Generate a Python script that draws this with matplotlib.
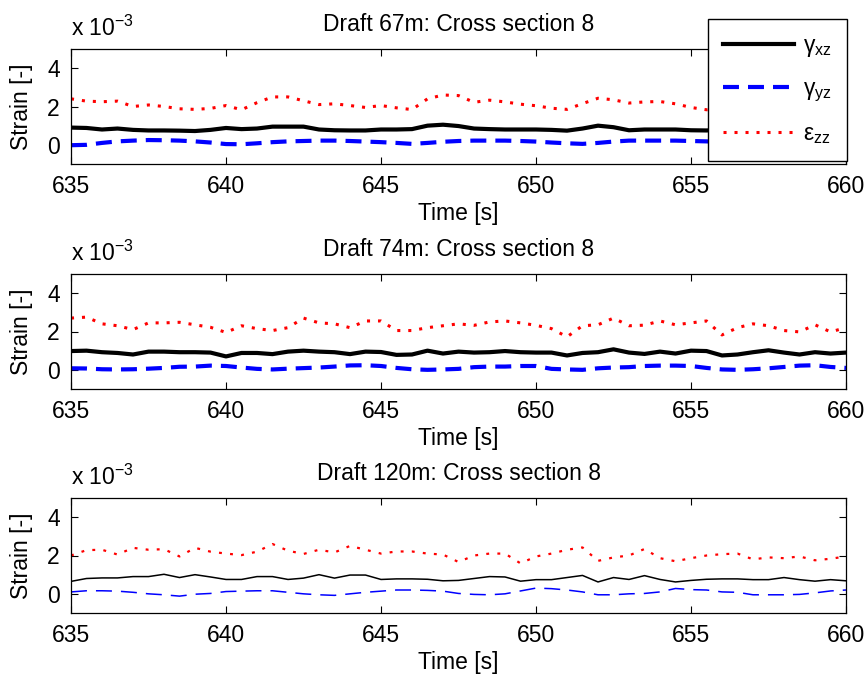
import numpy as np
import matplotlib
matplotlib.use("Agg")
import matplotlib.pyplot as plt

plt.rcParams["font.family"] = ["Liberation Sans", "DejaVu Sans"]
plt.rcParams["mathtext.fontset"] = "custom"
plt.rcParams["mathtext.rm"] = "Liberation Sans"
plt.rcParams["mathtext.it"] = "Liberation Sans"
plt.rcParams["mathtext.bf"] = "Liberation Sans:bold"

# Time samples [s]
time = np.arange(635.0, 660.01, 0.5)

# Strain values in units of 1e-3, one list per draft
gxz_67 = [0.90, 0.88, 0.80, 0.85, 0.78, 0.75, 0.75, 0.74, 0.72, 0.78,
          0.88, 0.82, 0.85, 0.95, 0.95, 0.95, 0.80, 0.76, 0.75, 0.75,
          0.80, 0.80, 0.82, 1.00, 1.05, 0.98, 0.85, 0.82, 0.80, 0.80,
          0.80, 0.78, 0.74, 0.85, 1.00, 0.92, 0.76, 0.80, 0.80, 0.80,
          0.76, 0.75, 0.78, 0.80, 0.85, 0.82, 0.80, 0.78, 0.80, 0.82,
          0.80]
gyz_67 = [-0.02, 0.00, 0.10, 0.18, 0.22, 0.25, 0.24, 0.22, 0.18, 0.12,
          0.04, 0.03, 0.08, 0.14, 0.18, 0.20, 0.22, 0.22, 0.20, 0.17,
          0.14, 0.10, 0.05, 0.10, 0.16, 0.20, 0.22, 0.22, 0.22, 0.20,
          0.17, 0.12, 0.08, 0.05, 0.10, 0.17, 0.22, 0.22, 0.22, 0.22,
          0.20, 0.18, 0.15, 0.10, 0.08, 0.10, 0.15, 0.20, 0.20, 0.18,
          0.15]
ezz_67 = [2.40, 2.28, 2.25, 2.28, 2.00, 2.08, 2.00, 1.88, 1.85, 1.90,
          2.05, 1.83, 2.20, 2.50, 2.50, 2.30, 2.10, 2.14, 2.05, 1.95,
          2.05, 1.93, 1.84, 2.40, 2.60, 2.57, 2.22, 2.33, 2.24, 2.12,
          2.04, 1.91, 1.85, 2.15, 2.43, 2.35, 2.18, 2.24, 2.26, 2.14,
          1.95, 1.83, 1.90, 2.05, 2.20, 2.30, 2.25, 2.10, 2.00, 2.10,
          2.20]

gxz_74 = [0.98, 1.00, 0.92, 0.88, 0.80, 0.95, 0.95, 0.92, 0.92, 0.90,
          0.70, 0.88, 0.88, 0.82, 0.95, 1.00, 0.95, 0.92, 0.82, 0.95,
          0.93, 0.78, 0.80, 1.00, 0.85, 0.95, 0.90, 0.92, 0.98, 0.92,
          0.90, 0.90, 0.75, 0.88, 0.92, 1.07, 0.90, 0.83, 0.95, 0.85,
          1.00, 0.98, 0.75, 0.80, 0.92, 1.02, 0.90, 0.80, 0.92, 0.85,
          0.90]
gyz_74 = [0.08, 0.07, 0.03, 0.02, 0.03, 0.06, 0.10, 0.16, 0.17, 0.22,
          0.20, 0.12, 0.05, 0.02, 0.06, 0.09, 0.12, 0.17, 0.23, 0.24,
          0.20, 0.10, 0.03, 0.00, 0.02, 0.05, 0.14, 0.17, 0.17, 0.20,
          0.20, 0.05, 0.02, 0.00, 0.08, 0.12, 0.14, 0.20, 0.22, 0.22,
          0.20, 0.10, 0.02, 0.00, 0.03, 0.08, 0.15, 0.22, 0.24, 0.15,
          0.10]
ezz_74 = [2.70, 2.75, 2.40, 2.30, 2.10, 2.45, 2.45, 2.48, 2.35, 2.22,
          1.95, 2.30, 2.15, 2.05, 2.20, 2.70, 2.45, 2.40, 2.20, 2.55,
          2.55, 2.05, 2.05, 2.20, 2.30, 2.40, 2.32, 2.50, 2.55, 2.45,
          2.32, 2.15, 1.72, 2.30, 2.35, 2.70, 2.30, 2.33, 2.55, 2.35,
          2.45, 2.55, 1.82, 2.20, 2.40, 2.30, 2.05, 1.98, 2.35, 1.98,
          2.20]

gxz_120 = [0.65, 0.80, 0.83, 0.83, 0.90, 0.90, 1.02, 0.85, 1.00, 0.88,
           0.75, 0.75, 0.90, 0.90, 0.75, 0.82, 1.00, 0.82, 0.98, 0.98,
           0.75, 0.78, 0.78, 0.76, 0.68, 0.70, 0.80, 0.90, 0.88, 0.66,
           0.74, 0.74, 0.85, 0.96, 0.62, 0.85, 0.75, 0.95, 0.75, 0.62,
           0.70, 0.76, 0.78, 0.78, 0.74, 0.74, 0.85, 0.74, 0.66, 0.74,
           0.68]
gyz_120 = [0.10, 0.16, 0.16, 0.14, 0.08, 0.00, -0.05, -0.12, -0.02, 0.02,
           0.12, 0.14, 0.16, 0.16, 0.08, 0.00, -0.05, -0.08, 0.00, 0.08,
           0.14, 0.20, 0.20, 0.18, 0.14, 0.02, -0.03, -0.05, 0.00, 0.15,
           0.30, 0.27, 0.20, 0.10, -0.05, -0.05, 0.00, 0.02, 0.10, 0.28,
           0.22, 0.20, 0.10, 0.08, -0.05, -0.05, -0.05, -0.03, 0.05, 0.15,
           0.20]
ezz_120 = [2.00, 2.28, 2.30, 2.05, 2.40, 2.30, 2.33, 1.95, 2.40, 2.20,
           2.10, 2.02, 2.20, 2.60, 2.25, 2.08, 2.30, 2.16, 2.50, 2.30,
           2.10, 2.21, 2.21, 2.10, 2.05, 1.66, 2.00, 2.10, 2.10, 1.59,
           1.95, 2.10, 2.30, 2.42, 1.72, 1.90, 2.00, 2.34, 1.86, 1.70,
           1.86, 2.00, 2.07, 2.10, 1.80, 1.90, 1.86, 1.95, 1.75, 1.83,
           1.95]

drafts = ["67m", "74m", "120m"]
series = [(gxz_67, gyz_67, ezz_67), (gxz_74, gyz_74, ezz_74),
          (gxz_120, gyz_120, ezz_120)]
line_widths = [3.0, 3.0, 1.1]

labels = ["\u03b3$_{\\mathrm{xz}}$", "\u03b3$_{\\mathrm{yz}}$",
          "\u03b5$_{\\mathrm{zz}}$"]
xticks = [635, 640, 645, 650, 655, 660]
yticks = [0, 2, 4]

W, H = 865, 675
fig = plt.figure(figsize=(W / 100, H / 100), dpi=100)
FS = 16.5

ax_tops = [49, 274, 498]
ax_h = 115
left, right = 71, 846

axes = []
for k in range(3):
    ax = fig.add_axes([left / W, 1 - (ax_tops[k] + ax_h) / H,
                       (right - left) / W, ax_h / H])
    gxz, gyz, ezz = series[k]
    lw = line_widths[k]
    l1, = ax.plot(time, gxz, color="black", lw=lw)
    l2, = ax.plot(time, gyz, color="#0000ff", lw=lw)
    l2.set_dashes((11.5 / lw, 6.5 / lw))
    l3, = ax.plot(time, ezz, color="#ff0000", lw=2.2 if k < 2 else 1.6)
    l3.set_dashes((1.0, 2.6) if k < 2 else (1.3, 3.7))
    ax.set_xlim(635, 660)
    ax.set_ylim(-1, 5)
    ax.set_xticks(xticks)
    ax.set_yticks(yticks)
    ax.tick_params(direction="in", top=True, right=True, length=5,
                   width=0.8, labelsize=FS, pad=8, colors="black")
    for sp in ax.spines.values():
        sp.set_linewidth(0.9)
    ax.set_xlabel("Time [s]", fontsize=FS, labelpad=3)
    ax.set_ylabel("Strain [-]", fontsize=FS, labelpad=10)
    ax.set_title(f"Draft {drafts[k]}: Cross section 8", fontsize=FS, pad=13)
    ax.text(0.0, 1 + 13 / ax_h, "x 10$^{\\mathrm{-3}}$", transform=ax.transAxes,
            fontsize=FS, ha="left", va="baseline")
    axes.append((ax, (l1, l2, l3)))

ax1, handles = axes[0]
leg = ax1.legend(handles, labels, loc="upper right",
                 bbox_to_anchor=(847 / W, 1 - 19 / H),
                 bbox_transform=fig.transFigure, fontsize=FS,
                 frameon=True, fancybox=False, framealpha=1,
                 edgecolor="black", borderaxespad=0, borderpad=0.65,
                 handlelength=3.1, handletextpad=0.4, labelspacing=0.8)
leg.get_frame().set_linewidth(1.0)

fig.savefig("out.png", dpi=100)
